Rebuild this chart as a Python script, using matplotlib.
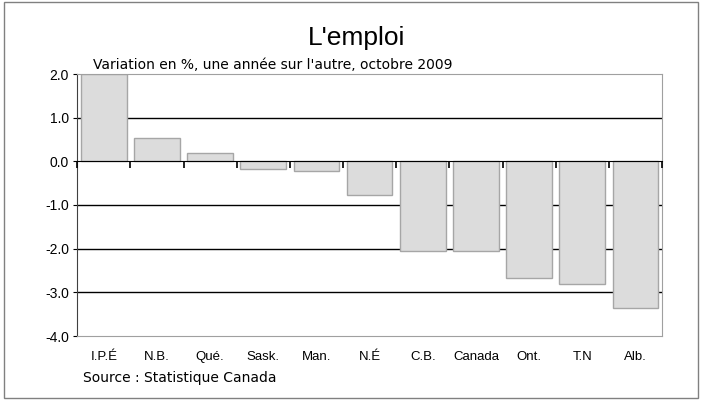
import numpy as np
import matplotlib
matplotlib.use("Agg")
import matplotlib.pyplot as plt
from matplotlib.patches import Rectangle

REGIONS = ["I.P.É", "N.B.", "Qué.", "Sask.", "Man.", "N.É", "C.B.", "Canada",
           "Ont.", "T.N", "Alb."]
CHANGE = [2.0, 0.53, 0.2, -0.18, -0.22, -0.78, -2.05, -2.05, -2.67, -2.8, -3.35]
YTICKS = [2.0, 1.0, 0.0, -1.0, -2.0, -3.0, -4.0]

FONT = ["Liberation Sans Narrow", "Liberation Sans", "DejaVu Sans"]
WIDE = ["DejaVu Sans"]
plt.rcParams["font.family"] = FONT


def main():
    fig = plt.figure(figsize=(7.02, 4.0), dpi=100)
    ax = fig.add_axes([0.110, 0.160, 0.833, 0.655])
    xs = np.arange(len(REGIONS))
    ymin, ymax = -4.0, 2.0

    for y in YTICKS[1:-1]:
        if y != 0.0:
            ax.axhline(y, color="black", lw=1.0, zorder=1)
    ax.bar(xs, CHANGE, width=0.86, color="#dcdcdc", edgecolor="#a6a6a6",
           lw=1.0, zorder=2)

    ax.set_xlim(-0.5, len(REGIONS) - 0.5)
    ax.set_ylim(ymin, ymax)
    ax.set_yticks(YTICKS)
    ax.set_yticklabels([f"{v:.1f}" for v in YTICKS], fontsize=10)
    ax.tick_params(axis="y", length=3, direction="out", pad=3)
    ax.set_xticks(xs)
    ax.set_xticklabels(REGIONS, fontsize=9.5)
    ax.tick_params(axis="x", length=0, pad=11)
    for side in ("top", "right", "bottom"):
        ax.spines[side].set_color("#a0a0a0")
    ax.spines["left"].set_color("#404040")

    # zero line with category-boundary ticks pointing down
    zero = ax.secondary_xaxis((0.0 - ymin) / (ymax - ymin))
    zero.set_zorder(5)
    zero.set_xticks(np.arange(len(REGIONS) + 1) - 0.5)
    zero.set_xticklabels([])
    zero.tick_params(length=5, direction="in", width=1.2, color="black")
    zero.spines["bottom"].set_color("black")
    zero.spines["bottom"].set_linewidth(1.0)

    fig.text(0.508, 0.905, "L'emploi", ha="center", va="center", fontsize=19)
    fig.text(0.133, 0.838, "Variation en %, une année sur l'autre, octobre 2009",
             ha="left", va="center", fontsize=10, family=WIDE)
    fig.text(0.118, 0.055, "Source : Statistique Canada", ha="left",
             va="center", fontsize=10, family=WIDE)
    fig.patches.append(Rectangle((0.005, 0.006), 0.99, 0.988,
                                 transform=fig.transFigure, fill=False,
                                 edgecolor="#808080", lw=1.0))
    fig.savefig("out.png", dpi=100)
    plt.close(fig)


if __name__ == "__main__":
    main()
